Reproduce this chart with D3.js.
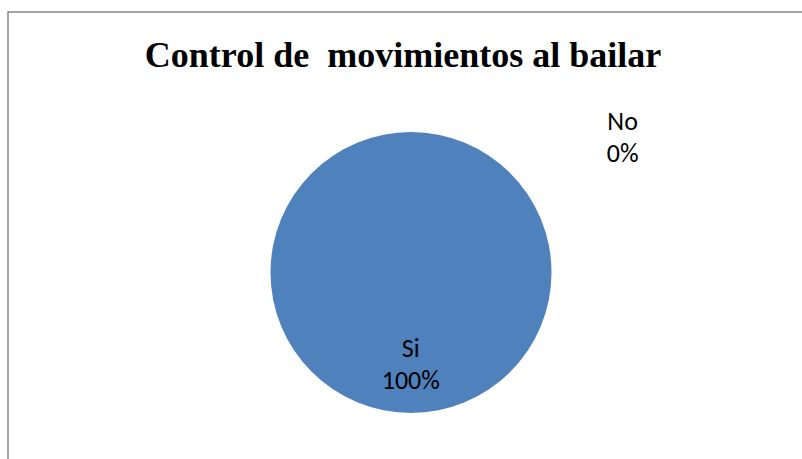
<!DOCTYPE html>
<html>
<head>
<meta charset="utf-8">
<script src="https://cdn.jsdelivr.net/npm/d3@7"></script>
<style>
  html, body { margin: 0; padding: 0; background: #fff; }
  svg { display: block; }
</style>
</head>
<body>
<script>
// Survey answers for "Control de movimientos al bailar"
const categories = ["Si", "No"];
const values = [100, 0];
const colors = ["#4F81BD", "#C0504D"];
const titleText = "Control de  movimientos al bailar";

const W = 802, H = 459;
const svg = d3.select("body").append("svg")
  .attr("width", W).attr("height", H);

// chart frame (only left and top edges fall inside the view)
svg.append("path")
  .attr("d", `M8,${H} L8,12 L${W},12`)
  .attr("fill", "none")
  .attr("stroke", "#868686")
  .attr("stroke-width", 1.5);

svg.append("text")
  .attr("x", 403).attr("y", 67)
  .attr("text-anchor", "middle")
  .attr("font-family", "'Liberation Serif', 'Times New Roman', serif")
  .attr("font-weight", "bold")
  .attr("font-size", 36)
  .style("white-space", "pre")
  .attr("xml:space", "preserve")
  .text(titleText);

const cx = 411, cy = 272.5, r = 140.5;
const data = categories.map((c, i) => ({ cat: c, value: values[i], color: colors[i] }));
const pie = d3.pie().sort(null).value(d => d.value);
const arcs = pie(data);
const arc = d3.arc().innerRadius(0).outerRadius(r);

const g = svg.append("g").attr("transform", `translate(${cx},${cy})`);
g.selectAll("path.slice")
  .data(arcs.filter(a => a.endAngle > a.startAngle))
  .join("path")
  .attr("class", "slice")
  .attr("d", arc)
  .attr("fill", d => d.data.color);

const total = d3.sum(values);
const labelFont = "Carlito, Lato, 'Open Sans', sans-serif";

// label baselines: main slice inside near the bottom, zero slice outside top-right
const labelPos = {
  "Si": [410.8, 357.3],
  "No": [622.6, 130]
};

arcs.forEach(a => {
  const [lx, ly] = labelPos[a.data.cat];
  const t = svg.append("text")
    .attr("text-anchor", "middle")
    .attr("font-family", labelFont)
    .attr("font-size", 26)
    .attr("fill", "#000");
  t.append("tspan").attr("x", lx).attr("y", ly).text(a.data.cat);
  t.append("tspan").attr("x", lx).attr("y", ly + 31.5)
    .text(Math.round(a.data.value / total * 100) + "%");
});
</script>
</body>
</html>
